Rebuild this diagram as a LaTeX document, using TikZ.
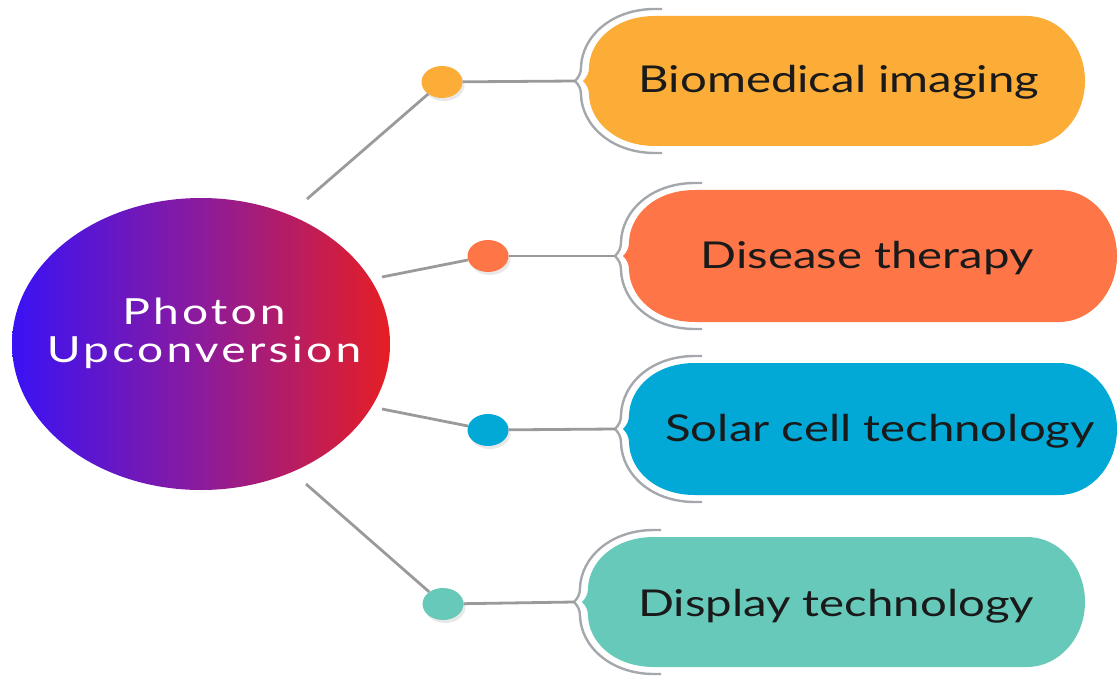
\documentclass[tikz,border=0pt]{standalone}
\usepackage{graphicx}
\usepackage{fontspec}
\setmainfont{Lato}
\newfontfamily\hubfont[LetterSpace=7]{Lato}
\usetikzlibrary{shapes.geometric,shadows}

\definecolor{orangeA}{HTML}{FBAD38}
\definecolor{coralB}{HTML}{FE7547}
\definecolor{blueC}{HTML}{02A9D6}
\definecolor{tealD}{HTML}{66C9BA}
\definecolor{linegray}{HTML}{9A9A9A}
\definecolor{rimgray}{HTML}{A4A8AC}
\definecolor{hubblue}{HTML}{3A12F5}
\definecolor{hubpurple}{HTML}{8C1B9C}
\definecolor{hubred}{HTML}{E61E24}
\definecolor{inkgray}{HTML}{1A1A1A}

\newcommand{\hstretch}[1]{\scalebox{1.28}[1]{#1}}

% colour, cusp x, mid y, half height, right end
\newcommand{\pill}[5]{%
  \fill[#1] (#2,#3) .. controls (#2+4,#3-4) and (#2+6,#3-8) .. (#2+6,#3-14)
    .. controls (#2+7,#3-0.62*#4) and (#2+70-0.58*#4,#3-#4) .. (#2+72,#3-#4)
    -- (#5-58,#3-#4) .. controls (#5-26,#3-#4) and (#5,#3-0.55*#4) .. (#5,#3)
    .. controls (#5,#3+0.55*#4) and (#5-26,#3+#4) .. (#5-58,#3+#4)
    -- (#2+72,#3+#4) .. controls (#2+70-0.58*#4,#3+#4) and (#2+7,#3+0.62*#4) .. (#2+6,#3+14)
    .. controls (#2+6,#3+8) and (#2+4,#3+4) .. (#2,#3) -- cycle;
  \draw[rim] (#2+79,#3-#4-7) -- (#2+72,#3-#4-7)
    .. controls (#2+70-0.58*#4-4,#3-#4-7) and (#2-1,#3-0.62*#4-4) .. (#2-2,#3-14)
    .. controls (#2-2,#3-8) and (#2-4,#3-4) .. (#2-8,#3)
    .. controls (#2-4,#3+4) and (#2-2,#3+8) .. (#2-2,#3+14)
    .. controls (#2-1,#3+0.62*#4+4) and (#2+70-0.58*#4-4,#3+#4+7) .. (#2+72,#3+#4+7)
    -- (#2+79,#3+#4+7);
}

\tikzset{
    link/.style={draw=linegray, line width=2.8pt},
    rim/.style={draw=rimgray, line width=2.4pt},
    dot/.style={shape=ellipse, minimum width=41pt, minimum height=32pt, inner sep=0pt,
        drop shadow={opacity=0.18, shadow xshift=2pt, shadow yshift=-3pt}},
    pilltext/.style={text=inkgray, font=\fontsize{37}{44}\selectfont,
        text height=27pt, text depth=0pt, inner sep=0pt},
    hub/.style={shape=ellipse, minimum width=378pt, minimum height=292pt, inner sep=0pt,
        left color=hubblue, right color=hubred, middle color=hubpurple},
    hubtext/.style={text=white, align=center, font=\hubfont\fontsize{36}{38}\selectfont}
}

\begin{document}
\begin{tikzpicture}[x=1pt, y=-1pt]
    \useasboundingbox (0,0) rectangle (1118,676);

    % branches
    \pill{orangeA}{583}{81}{65}{1085}
    \pill{coralB}{623}{256}{66}{1117}
    \pill{blueC}{623}{429}{66}{1117}
    \pill{tealD}{582}{602}{65}{1085}

    \node[hub] (hub) at (201,344) {};
    \node[hubtext] (title) at (204,333) {\hstretch{Photon}\\\hstretch{Upconversion}};

    \coordinate (s1) at (307,199);
    \coordinate (s2) at (382,277);
    \coordinate (s3) at (382,409);
    \coordinate (s4) at (306,484);
    \coordinate (t1) at (575,81);
    \coordinate (t2) at (615,256);
    \coordinate (t3) at (615,429);
    \coordinate (t4) at (574,602);

    \node[dot, fill=orangeA] (d1) at (442,82) {};
    \node[dot, fill=coralB] (d2) at (488,256) {};
    \node[dot, fill=blueC] (d3) at (488,430) {};
    \node[dot, fill=tealD] (d4) at (443,604) {};

    \draw[link] (s1) -- (d1);
    \draw[link] (d1) -- (t1);
    \draw[link] (s2) -- (d2);
    \draw[link] (d2) -- (t2);
    \draw[link] (s3) -- (d3);
    \draw[link] (d3) -- (t3);
    \draw[link] (s4) -- (d4);
    \draw[link] (d4) -- (t4);

    \node[pilltext] (p1) at (839,79) {\hstretch{Biomedical imaging}};
    \node[pilltext] (p2) at (867,255) {\hstretch{Disease therapy}};
    \node[pilltext] (p3) at (880,428) {\hstretch{Solar cell technology}};
    \node[pilltext] (p4) at (836,603) {\hstretch{Display technology}};
\end{tikzpicture}
\end{document}
